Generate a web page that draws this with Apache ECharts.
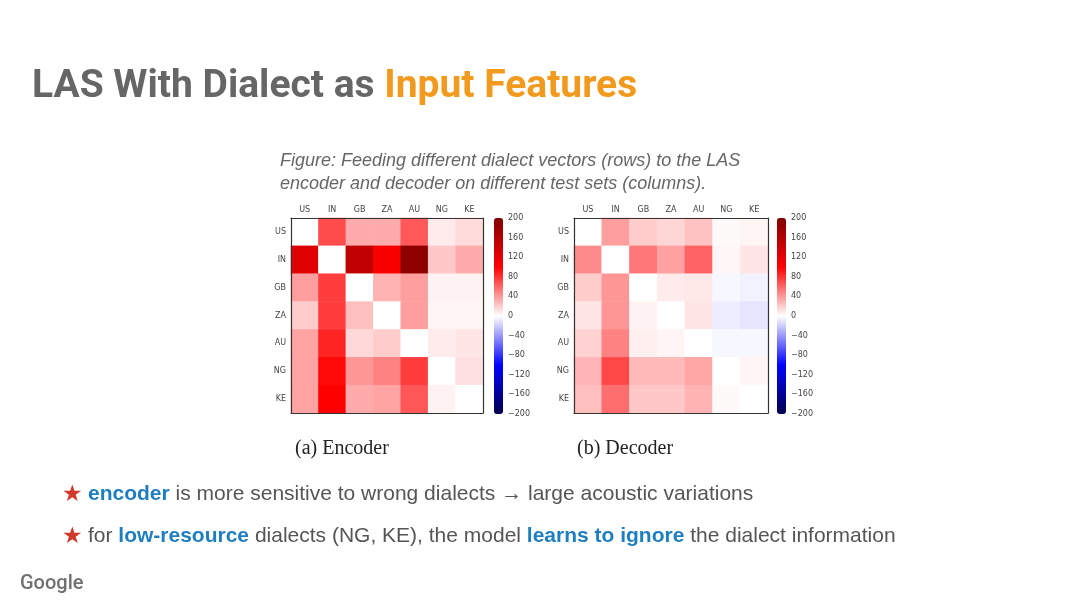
<!DOCTYPE html>
<html>
<head>
<meta charset="utf-8">
<script src="https://cdn.jsdelivr.net/npm/echarts@6/dist/echarts.min.js"></script>
<style>
  html, body { margin: 0; padding: 0; background: #fff; }
  #chart { width: 1080px; height: 607px; }
</style>
</head>
<body>
<div id="chart"></div>
<script>
// dialects: rows = dialect vector fed, columns = test set
const dialects = ["US", "IN", "GB", "ZA", "AU", "NG", "KE"];

// (a) encoder
const encoderValues = [
  [0, 70, 33, 33, 65, 8, 14],
  [125, 0, 150, 105, 190, 22, 33],
  [38, 76, 0, 30, 38, 5, 5],
  [20, 76, 25, 0, 38, 4, 4],
  [36, 86, 15, 20, 0, 8, 10],
  [36, 97, 41, 49, 76, 0, 12],
  [36, 100, 33, 36, 66, 5, 0],
];

// (b) decoder
const decoderValues = [
  [0, 38, 20, 16, 24, 2, 4],
  [45, 0, 53, 37, 61, 3, 10],
  [20, 41, 0, 8, 9, -3, -5],
  [10, 41, 5, 0, 10, -7, -10],
  [18, 49, 6, 4, 0, -3, -3],
  [29, 72, 27, 27, 35, 0, 4],
  [25, 57, 22, 22, 30, 2, 0],
];

const colorMin = -200;
const colorMax = 200;
const colorStep = 40;
// matplotlib "seismic"
const seismic = ["#00004d", "#0000ff", "#ffffff", "#ff0000", "#800000"];

function toCells(matrix) {
  let out = [];
  for (let r = 0; r < matrix.length; r++) {
    for (let c = 0; c < matrix[r].length; c++) {
      out.push([c, r, matrix[r][c]]);
    }
  }
  return out;
}

let myChart = echarts.init(document.getElementById("chart"));

const tickFont = { fontSize: 8, color: "#444", fontFamily: "DejaVu Sans" };
const sansFont = "Liberation Sans, Arial, sans-serif";

// heatmap grids and colorbar grids
const panels = [
  { left: 291, top: 218, width: 192, height: 195, cbLeft: 494 },
  { left: 574, top: 218, width: 194, height: 195, cbLeft: 777 },
];

let grids = [];
let xAxes = [];
let yAxes = [];
const frame = { show: true, lineStyle: { color: "#333", width: 1.2 } };
panels.forEach((p, i) => {
  // heatmap
  grids.push({ left: p.left, top: p.top, width: p.width, height: p.height });
  // colorbar tick axis
  grids.push({ left: p.cbLeft, top: p.top, width: 9, height: p.height + 1 });
  const g = i * 2;
  xAxes.push({
    gridIndex: g,
    type: "category",
    data: dialects,
    position: "top",
    z: 10,
    axisLine: frame,
    axisTick: { show: false },
    axisLabel: Object.assign({ margin: 4 }, tickFont),
    splitLine: { show: false },
  });
  xAxes.push({
    gridIndex: g,
    type: "category",
    data: dialects,
    position: "bottom",
    z: 10,
    axisLine: frame,
    axisTick: { show: false },
    axisLabel: { show: false },
  });
  xAxes.push({ gridIndex: g + 1, type: "value", show: false });
  yAxes.push({
    gridIndex: g,
    type: "category",
    data: dialects,
    inverse: true,
    position: "left",
    z: 10,
    axisLine: frame,
    axisTick: { show: false },
    axisLabel: Object.assign({ margin: 5 }, tickFont),
    splitLine: { show: false },
  });
  yAxes.push({
    gridIndex: g,
    type: "category",
    data: dialects,
    inverse: true,
    position: "right",
    z: 10,
    axisLine: frame,
    axisTick: { show: false },
    axisLabel: { show: false },
  });
  yAxes.push({
    gridIndex: g + 1,
    type: "value",
    min: colorMin,
    max: colorMax,
    interval: colorStep,
    position: "right",
    axisLine: { show: false },
    axisTick: { show: false },
    splitLine: { show: false },
    axisLabel: Object.assign(
      {
        margin: 5,
        formatter: (v) => String(v).replace("-", "\u2212"),
      },
      tickFont
    ),
  });
});

const bulletRich = {
  s: { fontFamily: sansFont, fontSize: 23, fontWeight: "normal", color: "#cf3a2c" },
  b: { fontFamily: sansFont, fontSize: 21, fontWeight: "bold", color: "#1f7ec0" },
  t: { fontFamily: sansFont, fontSize: 21, fontWeight: "normal", color: "#555555" },
};

var option = {
  backgroundColor: "#ffffff",
  animation: false,
  title: [
    {
      text: "{a|LAS With Dialect as }{b|Input Features}",
      left: 32,
      top: 68,
      padding: 0,
      textStyle: {
        rich: {
          a: { fontFamily: "Roboto", fontWeight: "bold", fontSize: 39, color: "#666666" },
          b: { fontFamily: "Roboto", fontWeight: "bold", fontSize: 39, color: "#f29a1e" },
        },
      },
    },
    {
      text:
        "Figure: Feeding different dialect vectors (rows) to the LAS\nencoder and decoder on different test sets (columns).",
      left: 280,
      top: 149,
      padding: 0,
      textStyle: {
        fontFamily: sansFont,
        fontStyle: "italic",
        fontWeight: "normal",
        fontSize: 18,
        lineHeight: 23,
        color: "#666666",
      },
    },
    {
      text: "(a) Encoder",
      left: 295,
      top: 439,
      padding: 0,
      textStyle: { fontFamily: "Liberation Serif", fontWeight: "normal", fontSize: 20, color: "#222" },
    },
    {
      text: "(b) Decoder",
      left: 577,
      top: 439,
      padding: 0,
      textStyle: { fontFamily: "Liberation Serif", fontWeight: "normal", fontSize: 20, color: "#222" },
    },
    {
      text:
        "{s|\u2605} {b|encoder}{t| is more sensitive to wrong dialects \u2192 large acoustic variations}",
      left: 62,
      top: 483,
      padding: 0,
      textStyle: { fontWeight: "normal", rich: bulletRich },
    },
    {
      text:
        "{s|\u2605} {t|for }{b|low-resource}{t| dialects (NG, KE), the model }{b|learns to ignore}{t| the dialect information}",
      left: 62,
      top: 525,
      padding: 0,
      textStyle: { fontWeight: "normal", rich: bulletRich },
    },
    {
      text: "Google",
      left: 20,
      top: 574,
      padding: 0,
      textStyle: { fontFamily: "Roboto", fontWeight: "500", fontSize: 20, color: "#707070" },
    },
  ],
  grid: grids,
  xAxis: xAxes,
  yAxis: yAxes,
  visualMap: [
    {
      type: "continuous",
      seriesIndex: 0,
      min: colorMin,
      max: colorMax,
      calculable: false,
      orient: "vertical",
      left: 494,
      top: 218,
      itemWidth: 9,
      itemHeight: 196,
      padding: 0,
      inRange: { color: seismic },
      hoverLink: false,
    },
    {
      type: "continuous",
      seriesIndex: 1,
      min: colorMin,
      max: colorMax,
      calculable: false,
      orient: "vertical",
      left: 777,
      top: 218,
      itemWidth: 9,
      itemHeight: 196,
      padding: 0,
      inRange: { color: seismic },
      hoverLink: false,
    },
  ],
  series: [
    {
      name: "encoder",
      type: "heatmap",
      xAxisIndex: 0,
      yAxisIndex: 0,
      data: toCells(encoderValues),
      itemStyle: { borderWidth: 0 },
    },
    {
      name: "decoder",
      type: "heatmap",
      xAxisIndex: 3,
      yAxisIndex: 3,
      data: toCells(decoderValues),
      itemStyle: { borderWidth: 0 },
    },
  ],
};

myChart.setOption(option);
window.addEventListener("resize", function () {
  myChart.resize();
});
</script>
</body>
</html>
